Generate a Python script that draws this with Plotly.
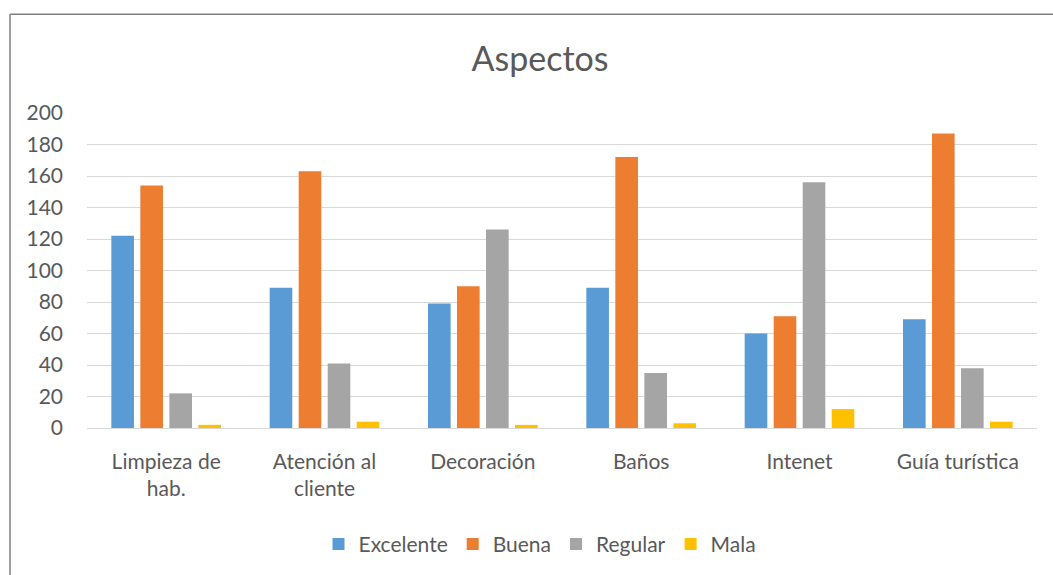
import plotly.graph_objects as go

categories = ["Limpieza de<br>hab.", "Atención al<br>cliente", "Decoración", "Baños", "Intenet", "Guía turística"]
excelente = [122, 89, 79, 89, 60, 69]
buena = [154, 163, 90, 172, 71, 187]
regular = [22, 41, 126, 35, 156, 38]
mala = [2, 4, 2, 3, 12, 4]
y_ticks = [0, 20, 40, 60, 80, 100, 120, 140, 160, 180, 200]

series = [
    ("Excelente", excelente, "#5B9BD5"),
    ("Buena", buena, "#ED7D31"),
    ("Regular", regular, "#A5A5A5"),
    ("Mala", mala, "#FFC000"),
]

W, H = 1053, 575
L, R, T, B = 87, 16, 113, 146.5
pw, ph = W - L - R, H - T - B

def px_x(x):
    return (x - L) / pw

def px_y(y):
    return (H - B - y) / ph

FONT = "Lato"
TXT = "#595959"

fig = go.Figure()
for name, vals, col in series:
    fig.add_trace(go.Bar(x=categories, y=vals, name=name, marker=dict(color=col, line=dict(width=0))))

fig.update_layout(
    width=W, height=H,
    margin=dict(l=L, r=R, t=T, b=B, autoexpand=False),
    paper_bgcolor="white", plot_bgcolor="white",
    barmode="group", bargap=0.267, bargroupgap=0.22,
    font=dict(family=FONT, color=TXT, size=21),
    title=dict(text="Aspectos", x=540 / W, xanchor="center",
               y=1 - 59 / H, yanchor="middle", font=dict(size=34, color=TXT, family=FONT)),
    legend=dict(orientation="h", x=px_x(540), xanchor="center", y=px_y(545), yanchor="middle",
                font=dict(size=21, color=TXT, family=FONT), bgcolor="rgba(0,0,0,0)"),
    xaxis=dict(showgrid=False, showline=False, zeroline=False, ticks="",
               tickfont=dict(size=21, color=TXT, family=FONT), ticklabelstandoff=19),
    yaxis=dict(range=[0, 200], tickvals=y_ticks, showgrid=True, gridcolor="#D9D9D9", gridwidth=1.3,
               zeroline=True, zerolinecolor="#D9D9D9", zerolinewidth=1.3, showline=False, ticks="",
               tickfont=dict(size=21, color=TXT, family=FONT), ticklabelstandoff=23),
    shapes=[
        dict(type="line", xref="paper", yref="paper", x0=px_x(10), x1=px_x(10), y0=px_y(14), y1=px_y(620),
             line=dict(color="#7F7F7F", width=1.5)),
        dict(type="line", xref="paper", yref="paper", x0=px_x(10), x1=px_x(1100), y0=px_y(14), y1=px_y(14),
             line=dict(color="#7F7F7F", width=1.5)),
    ],
)

fig.write_html("out.html")
